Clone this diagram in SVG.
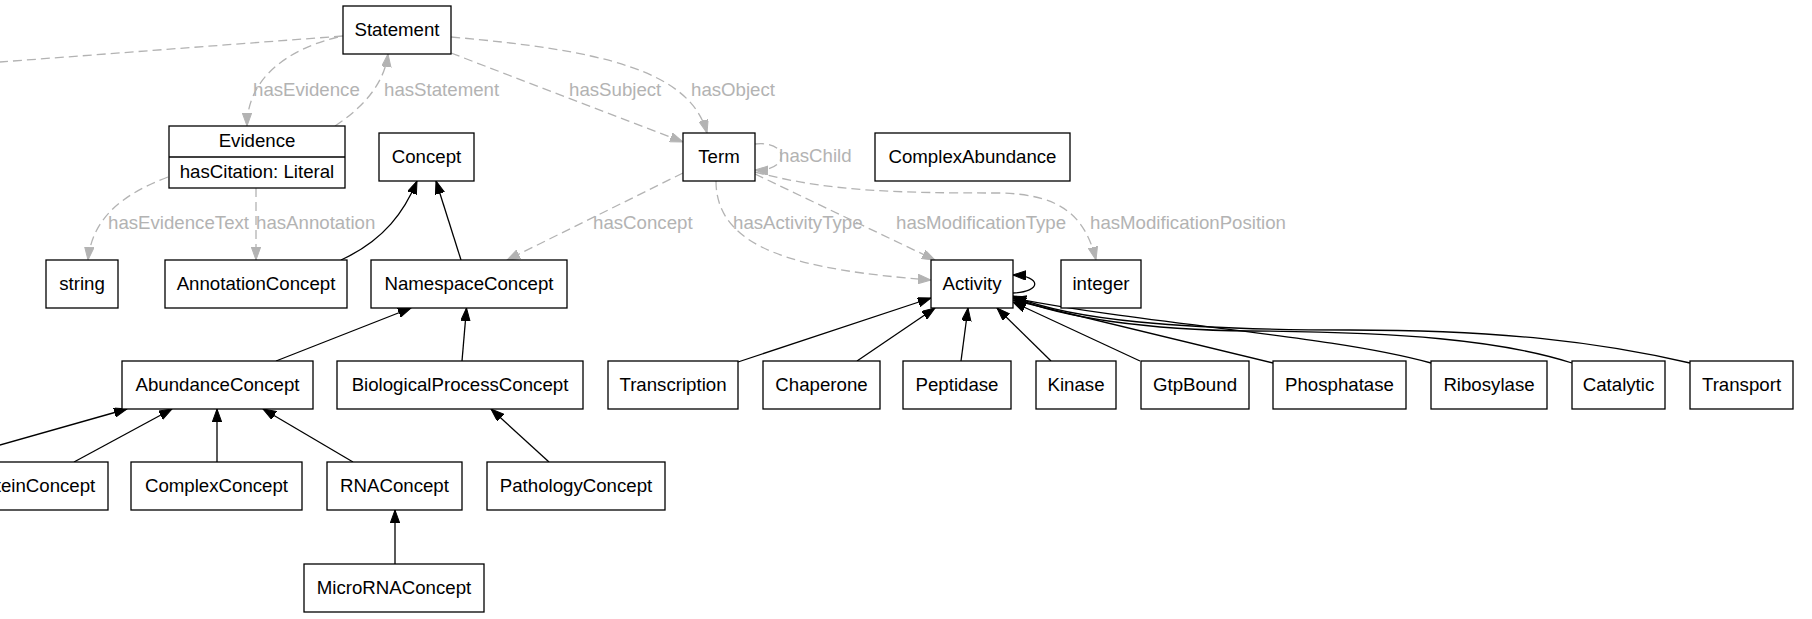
<svg xmlns="http://www.w3.org/2000/svg" width="1812" height="619" viewBox="0 0 1812 619">
<style>
.n rect{fill:#fff;stroke:#000;stroke-width:1.3}
.n line{stroke:#000;stroke-width:1.3}
.n text{font-family:"Liberation Sans",Arial,sans-serif;font-size:18.67px;fill:#000;text-anchor:middle}
.d{fill:none;stroke:#b3b3b3;stroke-width:1.3;stroke-dasharray:9,5}
.s{fill:none;stroke:#000;stroke-width:1.3}
.lbl{font-family:"Liberation Sans",Arial,sans-serif;font-size:18.67px;fill:#b3b3b3}
</style>
<defs>
<marker id="ag" markerUnits="userSpaceOnUse" markerWidth="14" markerHeight="10" refX="13" refY="4.7" orient="auto"><path d="M0,0 L13,4.7 L0,9.4 z" fill="#b3b3b3" stroke="#b3b3b3" stroke-width="1"/></marker>
<marker id="ab" markerUnits="userSpaceOnUse" markerWidth="14" markerHeight="10" refX="13" refY="4.7" orient="auto"><path d="M0,0 L13,4.7 L0,9.4 z" fill="#000" stroke="#000" stroke-width="1"/></marker>
</defs>
<rect x="0" y="0" width="1812" height="619" fill="#fff"/>
<g id="connectors">
<path class="d" d="M343,36 L0,62"/>
<path class="d" marker-end="url(#ag)" d="M338,37 C285,50 247,80 247,126"/>
<path class="d" marker-end="url(#ag)" d="M335,126 C362,108 384,85 388,54"/>
<path class="d" marker-end="url(#ag)" d="M451,53 L683,142"/>
<path class="d" marker-end="url(#ag)" d="M451,37 C600,50 690,70 707,133"/>
<path class="d" marker-end="url(#ag)" d="M755,144 C790,140 790,172 755,170"/>
<path class="d" marker-end="url(#ag)" d="M755,172 C830,192 900,193 1002,193 C1060,195 1085,215 1096,260"/>
<path class="d" marker-end="url(#ag)" d="M755,174 L935,260"/>
<path class="d" marker-end="url(#ag)" d="M716,181 C716,250 800,270 931,280"/>
<path class="d" marker-end="url(#ag)" d="M683,173 L507,260"/>
<path class="d" marker-end="url(#ag)" d="M168,177 C120,195 92,220 88,260"/>
<path class="d" marker-end="url(#ag)" d="M256,188 L256,260"/>
<path class="s" marker-end="url(#ab)" d="M341,260 C385,240 405,210 417,181"/>
<path class="s" marker-end="url(#ab)" d="M461,260 L436,181"/>
<path class="s" marker-end="url(#ab)" d="M276,361 L411,308"/>
<path class="s" marker-end="url(#ab)" d="M462,361 L466.5,308"/>
<path class="s" marker-end="url(#ab)" d="M-60,462 L127,409"/>
<path class="s" marker-end="url(#ab)" d="M74,462 L172,409"/>
<path class="s" marker-end="url(#ab)" d="M217,462 L217,409"/>
<path class="s" marker-end="url(#ab)" d="M353,462 L263,409"/>
<path class="s" marker-end="url(#ab)" d="M549,462 L491,409"/>
<path class="s" marker-end="url(#ab)" d="M395,564 L395,510"/>
<path class="s" marker-end="url(#ab)" d="M738,362 L931,298"/>
<path class="s" marker-end="url(#ab)" d="M857,361 L935,308"/>
<path class="s" marker-end="url(#ab)" d="M961,361 L968,308"/>
<path class="s" marker-end="url(#ab)" d="M1051,361 L997,308"/>
<path class="s" marker-end="url(#ab)" d="M1140,361 L1013,302"/>
<path class="s" marker-end="url(#ab)" d="M1273,363 L1013,300"/>
<path class="s" marker-end="url(#ab)" d="M1431,363 C1330,335 1150,325 1013,298"/>
<path class="s" marker-end="url(#ab)" d="M1572,363 C1500,340 1400,332 1250,331 C1150,330 1060,318 1013,297"/>
<path class="s" marker-end="url(#ab)" d="M1690,363 C1600,342 1500,330 1350,330 C1180,330 1070,320 1013,296"/>
<path class="s" marker-end="url(#ab)" d="M1013,293 C1042,292 1042,276 1013,275"/>
<text class="lbl" x="253" y="96">hasEvidence</text>
<text class="lbl" x="384" y="96">hasStatement</text>
<text class="lbl" x="569" y="96">hasSubject</text>
<text class="lbl" x="691" y="96">hasObject</text>
<text class="lbl" x="779" y="162">hasChild</text>
<text class="lbl" x="108" y="229">hasEvidenceText</text>
<text class="lbl" x="256" y="229">hasAnnotation</text>
<text class="lbl" x="593" y="229">hasConcept</text>
<text class="lbl" x="733" y="229">hasActivityType</text>
<text class="lbl" x="896" y="229">hasModificationType</text>
<text class="lbl" x="1090" y="229">hasModificationPosition</text>
</g>
<g id="Statement" class="n"><rect x="343" y="6" width="108" height="48"/><text x="397" y="36">Statement</text></g>
<g id="Evidence" class="n"><rect x="169" y="126" width="176" height="62"/><line x1="169" y1="157" x2="345" y2="157"/><text x="257" y="147">Evidence</text><text x="257" y="178">hasCitation: Literal</text></g>
<g id="Concept" class="n"><rect x="379" y="133" width="95" height="48"/><text x="426.5" y="163">Concept</text></g>
<g id="Term" class="n"><rect x="683" y="133" width="72" height="48"/><text x="719" y="163">Term</text></g>
<g id="ComplexAbundance" class="n"><rect x="875" y="133" width="195" height="48"/><text x="972.5" y="163">ComplexAbundance</text></g>
<g id="string" class="n"><rect x="46" y="260" width="72" height="48"/><text x="82" y="290">string</text></g>
<g id="AnnotationConcept" class="n"><rect x="165" y="260" width="182" height="48"/><text x="256" y="290">AnnotationConcept</text></g>
<g id="NamespaceConcept" class="n"><rect x="371" y="260" width="196" height="48"/><text x="469" y="290">NamespaceConcept</text></g>
<g id="Activity" class="n"><rect x="931" y="260" width="82" height="48"/><text x="972" y="290">Activity</text></g>
<g id="integer" class="n"><rect x="1061" y="260" width="80" height="48"/><text x="1101" y="290">integer</text></g>
<g id="AbundanceConcept" class="n"><rect x="122" y="361" width="191" height="48"/><text x="217.5" y="391">AbundanceConcept</text></g>
<g id="BiologicalProcessConcept" class="n"><rect x="337" y="361" width="246" height="48"/><text x="460" y="391">BiologicalProcessConcept</text></g>
<g id="Transcription" class="n"><rect x="608" y="361" width="130" height="48"/><text x="673" y="391">Transcription</text></g>
<g id="Chaperone" class="n"><rect x="763" y="361" width="117" height="48"/><text x="821.5" y="391">Chaperone</text></g>
<g id="Peptidase" class="n"><rect x="903" y="361" width="108" height="48"/><text x="957" y="391">Peptidase</text></g>
<g id="Kinase" class="n"><rect x="1036" y="361" width="80" height="48"/><text x="1076" y="391">Kinase</text></g>
<g id="GtpBound" class="n"><rect x="1141" y="361" width="108" height="48"/><text x="1195" y="391">GtpBound</text></g>
<g id="Phosphatase" class="n"><rect x="1273" y="361" width="133" height="48"/><text x="1339.5" y="391">Phosphatase</text></g>
<g id="Ribosylase" class="n"><rect x="1431" y="361" width="116" height="48"/><text x="1489" y="391">Ribosylase</text></g>
<g id="Catalytic" class="n"><rect x="1572" y="361" width="93" height="48"/><text x="1618.5" y="391">Catalytic</text></g>
<g id="Transport" class="n"><rect x="1690" y="361" width="103" height="48"/><text x="1741.5" y="391">Transport</text></g>
<g id="ProteinConcept" class="n"><rect x="-46" y="462" width="154" height="48"/><text x="31" y="492">ProteinConcept</text></g>
<g id="ComplexConcept" class="n"><rect x="131" y="462" width="171" height="48"/><text x="216.5" y="492">ComplexConcept</text></g>
<g id="RNAConcept" class="n"><rect x="327" y="462" width="135" height="48"/><text x="394.5" y="492">RNAConcept</text></g>
<g id="PathologyConcept" class="n"><rect x="487" y="462" width="178" height="48"/><text x="576" y="492">PathologyConcept</text></g>
<g id="MicroRNAConcept" class="n"><rect x="304" y="564" width="180" height="48"/><text x="394" y="594">MicroRNAConcept</text></g>
</svg>
